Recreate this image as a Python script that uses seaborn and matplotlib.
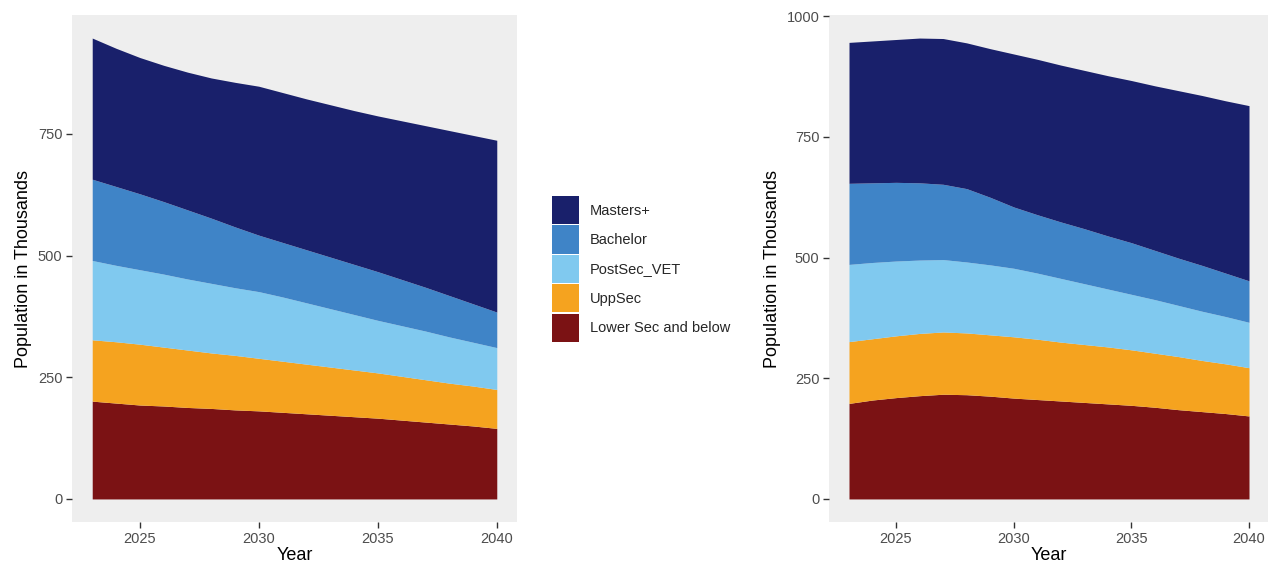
import numpy as np
import pandas as pd
import matplotlib
matplotlib.use("Agg")
import matplotlib.pyplot as plt
from matplotlib.patches import Patch
import seaborn as sns

# Projection years
years = list(range(2023, 2041))

levels = ["Lower Sec and below", "UppSec", "PostSec_VET", "Bachelor", "Masters+"]
colors = ["#7B1214", "#F5A31F", "#80C9EF", "#3F84C7", "#19206B"]

# Left panel (population in thousands by education level)
left_lower = [201, 197, 193, 191, 188, 186, 183, 181, 178, 175, 172, 169, 166, 162, 158, 154, 150, 145]
left_upp = [126, 126, 125, 121, 118, 114, 112, 108, 105, 102, 99, 96, 93, 90, 87, 84, 82, 80]
left_post = [163, 157, 153, 150, 146, 143, 139, 137, 132, 126, 120, 114, 108, 104, 100, 95, 90, 86]
left_bach = [167, 162, 156, 149, 142, 134, 125, 116, 112, 109, 106, 103, 100, 95, 90, 85, 79, 73]
left_mast = [290, 284, 280, 280, 283, 288, 297, 306, 308, 310, 313, 316, 320, 326, 332, 339, 346, 353]

# Right panel
right_lower = [198, 205, 210, 214, 217, 216, 213, 209, 206, 203, 200, 197, 194, 190, 185, 181, 177, 172]
right_upp = [128, 127, 128, 129, 129, 128, 127, 127, 125, 122, 120, 118, 115, 112, 110, 106, 103, 100]
right_post = [160, 158, 155, 152, 150, 147, 145, 142, 137, 132, 126, 120, 115, 111, 106, 102, 98, 94]
right_bach = [168, 165, 163, 160, 156, 152, 140, 127, 121, 117, 114, 110, 107, 102, 98, 95, 90, 86]
right_mast = [292, 294, 296, 300, 302, 302, 308, 317, 322, 325, 328, 332, 336, 341, 347, 352, 357, 363]

left_df = pd.DataFrame(dict(zip(levels, [left_lower, left_upp, left_post, left_bach, left_mast])), index=years)
right_df = pd.DataFrame(dict(zip(levels, [right_lower, right_upp, right_post, right_bach, right_mast])), index=years)

sns.set_theme(style="white")
plt.rcParams["font.family"] = ["Liberation Sans", "DejaVu Sans"]

fig = plt.figure(figsize=(12.68, 5.65), dpi=100)
ax1 = fig.add_axes([72 / 1268, 1 - 522 / 565, 445 / 1268, 507 / 565])
ax2 = fig.add_axes([829 / 1268, 1 - 522 / 565, 440 / 1268, 507 / 565])


def draw_panel(ax, df, yticks):
    ax.stackplot(df.index, *[df[c].values for c in levels], colors=colors, linewidth=0)
    ax.set_facecolor("#EEEEEE")
    span = df.index.max() - df.index.min()
    ax.set_xlim(df.index.min() - 0.05 * span, df.index.max() + 0.05 * span)
    top = df.sum(axis=1).max()
    ax.set_ylim(-0.05 * top, 1.05 * top)
    ax.set_xticks([2025, 2030, 2035, 2040])
    ax.set_yticks(yticks)
    for s in ax.spines.values():
        s.set_visible(False)
    ax.tick_params(axis="both", length=4, width=1, color="#333333", labelcolor="#4D4D4D",
                   labelsize=10.5, pad=3, left=True, bottom=True)
    ax.set_xlabel("Year", fontsize=13, color="black", labelpad=1)
    ax.set_ylabel("Population in Thousands", fontsize=13, color="black", labelpad=4)
    ax.grid(False)


draw_panel(ax1, left_df, [0, 250, 500, 750])
draw_panel(ax2, right_df, [0, 250, 500, 750, 1000])

handles = [Patch(facecolor=c, edgecolor="none") for c in colors][::-1]
fig.legend(handles, levels[::-1], loc="upper left", bbox_to_anchor=(552 / 1268, 1 - 196 / 565),
           frameon=False, fontsize=10.5, handlelength=1.85, handleheight=2.6,
           labelspacing=0.08, handletextpad=0.75, borderpad=0, borderaxespad=0)

fig.savefig("out.png", dpi=100, facecolor="white")
